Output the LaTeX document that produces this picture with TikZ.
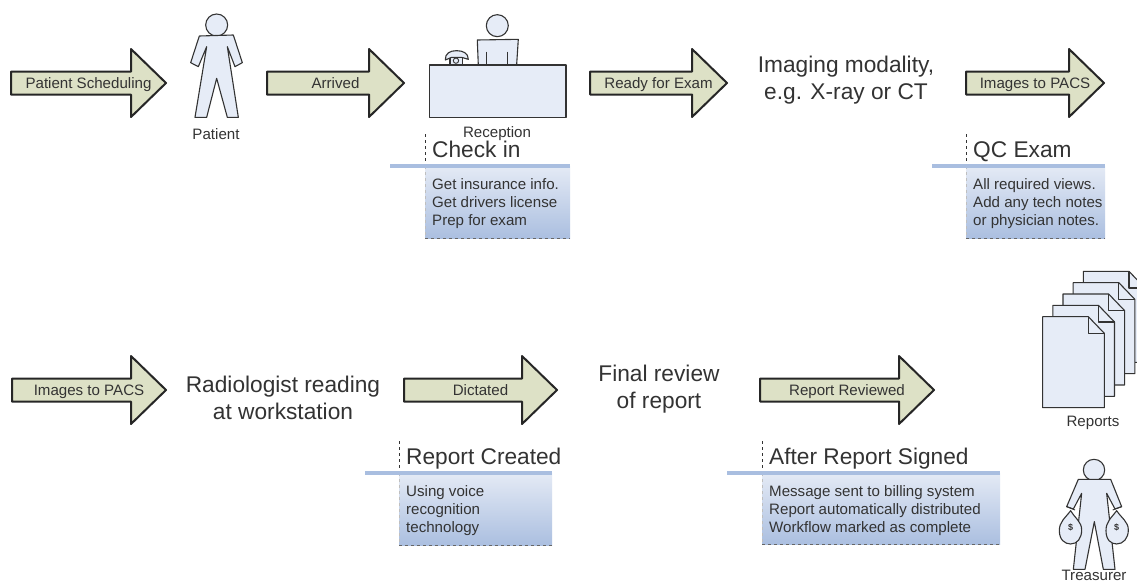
\documentclass[tikz,border=0pt]{standalone}
\usepackage{fontspec}
\setmainfont{Liberation Sans}
\definecolor{arrowfill}{HTML}{DDE1C6}
\definecolor{figfill}{HTML}{E6ECF7}
\definecolor{rulecol}{HTML}{A9BEE0}
\definecolor{boxtop}{HTML}{E4EAF5}
\definecolor{boxbot}{HTML}{ABBFE0}
\definecolor{txt}{HTML}{333333}
\newcommand{\smallfs}{\fontsize{15.1}{18}\selectfont}
\newcommand{\bigfs}{\fontsize{22.7}{27}\selectfont}
% #1 name, #2 left, #3 tip, #4 mid y, #5 text
\newcommand{\flowarrow}[5]{%
  \draw[flowarrowline] (#2,#4-11.5) -- (#3-35,#4-11.5) -- (#3-35,#4-34) -- (#3,#4) -- (#3-35,#4+34) -- (#3-35,#4+11.5) -- (#2,#4+11.5) -- cycle;
  \node[smalltext,anchor=base] (#1) at ({(#2+#3)/2},#4+5) {#5};}
% #1 name, #2 rule left, #3 box left, #4 right, #5 rule y, #6 bottom, #7 title, #8 text
\newcommand{\notebox}[8]{%
  \shade[top color=boxtop,bottom color=boxbot] (#3,#5) rectangle (#4,#6);
  \draw[dashed,black!80,line width=0.9pt] (#3,#5-32) -- (#3,#5);
  \draw[dashed,black!25,line width=0.7pt] (#3,#5) -- (#3,#6);
  \draw[dashed,black!60,line width=0.9pt] (#3,#6) -- (#4,#6);
  \draw[rulecol,line width=3.6pt] (#2,#5) -- (#4,#5);
  \node[bigtext,anchor=base west] (#1t) at (#3+7,#5-8.5) {#7};
  \node[smalltext,anchor=north west] (#1b) at (#3+7,#5+12) {#8};}
\tikzset{
  flowarrowline/.style={draw=black!85,fill=arrowfill,line width=2pt,line join=round},
  smalltext/.style={font=\smallfs,text=txt,inner sep=0pt,align=left},
  bigtext/.style={font=\bigfs,text=txt,inner sep=0pt,align=center},
  figure/.style={draw=black!80,fill=figfill,line width=1.1pt,line join=round},
}
\begin{document}
\begin{tikzpicture}[x=1pt,y=-1pt]
\useasboundingbox[fill=white] (0,0) rectangle (1137,582);

\flowarrow{a1}{11}{166}{83}{Patient Scheduling}
\flowarrow{a2}{267}{404}{83}{Arrived}
\flowarrow{a3}{590}{727}{83}{Ready for Exam}
\flowarrow{a4}{966}{1104}{83}{Images to PACS}
\flowarrow{a5}{12}{166}{390}{Images to PACS}
\flowarrow{a6}{404}{557}{390}{Dictated}
\flowarrow{a7}{760}{934}{390}{Report Reviewed}

% Patient
\begin{scope}[shift={(170,0)},x=0.3333pt,y=-0.3333pt]
  \draw[figure] (140,75) circle (33);
  \draw[figure] (88,108) -- (190,105) -- (217,188) -- (195,200) -- (172,140) -- (205,352) -- (172,352) -- (140,235) -- (110,352) -- (75,352) -- (110,140) -- (85,200) -- (62,188) -- cycle;
  % Reception figure
  \draw[figure] (982,77) circle (33);
  \draw[figure] (922,120) -- (1045,118) -- (1040,195) -- (925,195) -- cycle;
  \draw[black!80,line width=0.9pt] (950,155) -- (950,195) (1012,155) -- (1012,195);
  \draw[figure] (840,168) rectangle (878,195);
  \draw[black!80,line width=0.9pt] (858,182) circle (8);
  \draw[figure] (826,180) .. controls (825,160) and (840,152) .. (860,152) .. controls (880,152) and (895,160) .. (895,178) -- (875,172) -- (845,172) -- cycle;
  \draw[figure] (778,195) rectangle (1188,353);
\end{scope}
\node[smalltext,anchor=center] (patient) at (216,134) {Patient};
\node[smalltext,anchor=center] (reception) at (497,134) {Reception};

\notebox{n1}{390}{425}{570}{166}{238}{Check in}{Get insurance info.\\Get drivers license\\Prep for exam}
\notebox{n2}{932}{966}{1105}{166}{238}{QC Exam}{All required views.\\Add any tech notes\\or physician notes.}
\notebox{n3}{365}{399}{552}{473}{545}{Report Created}{Using voice\\recognition\\technology}
\notebox{n4}{727}{762}{1000}{473}{544}{After Report Signed}{Message sent to billing system\\Report automatically distributed\\Workflow marked as complete}

\node[bigtext] (modality) at (846,80) {Imaging modality,\\e.g. X-ray or CT};
\node[bigtext] (reading) at (283,398) {Radiologist reading\\at workstation};
\node[bigtext] (review) at (659,389) {Final review\\of report};

% Reports
\begin{scope}[shift={(1000,260)},x=0.3333pt,y=-0.3333pt]
  \clip (-10,-10) rectangle (411,460);
  \foreach \k in {4,3,2,1,0}{
    \begin{scope}[shift={({\k*30.5},{-\k*34})}]
      \draw[figure] (128,170) -- (265,170) -- (313,220) -- (313,443) -- (128,443) -- cycle;
      \draw[black!80,line width=1.1pt,line join=round] (265,170) -- (265,220) -- (313,220);
    \end{scope}}
\end{scope}
\node[smalltext,anchor=center] (reports) at (1093,423) {Reports};

% Treasurer
\begin{scope}[shift={(1000,260)},x=0.3333pt,y=-0.3333pt]
  \draw[figure] (282,630) circle (32);
  \draw[figure] (235,658) -- (332,658) -- (365,740) -- (345,747) -- (320,700) -- (345,928) -- (310,928) -- (283,785) -- (255,928) -- (220,928) -- (245,700) -- (220,747) -- (200,740) -- cycle;
  \draw[figure] (212,752) .. controls (195,775) and (178,785) .. (178,812) .. controls (178,840) and (195,852) .. (212,852) .. controls (232,852) and (245,835) .. (245,810) .. controls (245,785) and (225,775) .. (212,752) -- cycle;
  \draw[figure] (350,752) .. controls (333,775) and (318,785) .. (318,812) .. controls (318,840) and (333,852) .. (350,852) .. controls (370,852) and (385,835) .. (385,810) .. controls (385,785) and (365,775) .. (350,752) -- cycle;
  \draw[black!80,line width=0.9pt] (200,740) -- (225,750) (365,740) -- (338,750);
  \node[font=\fontsize{9}{9}\selectfont\bfseries,text=txt,inner sep=0pt] (d1) at (212,803) {\$};
  \node[font=\fontsize{9}{9}\selectfont\bfseries,text=txt,inner sep=0pt] (d2) at (350,803) {\$};
\end{scope}
\node[smalltext,anchor=center] (treasurer) at (1094,575) {Treasurer};
\end{tikzpicture}
\end{document}
